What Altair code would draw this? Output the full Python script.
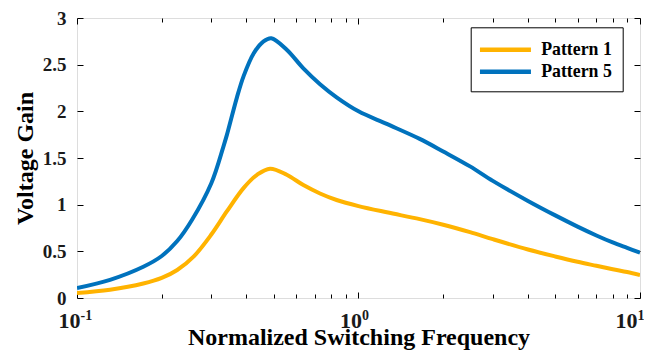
import altair as alt
import pandas as pd

# ---- data ----
p1_freq = [0.100, 0.131, 0.172, 0.200, 0.227, 0.260, 0.300, 0.341, 0.391, 0.436,
           0.485, 0.556, 0.637, 0.730, 0.836, 1.0, 1.26, 1.65, 2.0, 2.49,
           3.0, 4.0, 5.0, 6.0, 7.0, 8.0, 9.0, 10.0]
p1_gain = [0.054, 0.089, 0.155, 0.215, 0.300, 0.446, 0.680, 0.930, 1.180, 1.320,
           1.386, 1.320, 1.210, 1.120, 1.050, 0.985, 0.918, 0.845, 0.785, 0.705,
           0.630, 0.520, 0.445, 0.388, 0.345, 0.308, 0.278, 0.246]

p5_freq = [0.100, 0.131, 0.172, 0.200, 0.227, 0.256, 0.300, 0.331, 0.341, 0.370,
           0.391, 0.424, 0.460, 0.490, 0.556, 0.637, 0.730, 0.836, 1.0, 1.26,
           1.65, 2.0, 2.49, 3.0, 4.0, 5.0, 6.0, 7.0, 8.0, 9.0, 10.0]
p5_gain = [0.107, 0.195, 0.335, 0.450, 0.610, 0.836, 1.230, 1.620, 1.750, 2.150,
           2.380, 2.620, 2.750, 2.783, 2.660, 2.460, 2.290, 2.150, 2.000, 1.865,
           1.705, 1.570, 1.410, 1.255, 1.040, 0.885, 0.765, 0.670, 0.595, 0.537, 0.486]

series_names = ["Pattern 1", "Pattern 5"]
series_colors = ["#FFB300", "#0072BD"]

x_major = [0.1, 1, 10]
x_exponents = ["-1", "0", "1"]
x_minor = [0.2, 0.3, 0.4, 0.5, 0.6, 0.7, 0.8, 0.9, 2, 3, 4, 5, 6, 7, 8, 9]
y_ticks = [0, 0.5, 1, 1.5, 2, 2.5, 3]

rows = []
for f, g in zip(p1_freq, p1_gain):
    rows.append({"freq": f, "gain": g, "series": series_names[0]})
for f, g in zip(p5_freq, p5_gain):
    rows.append({"freq": f, "gain": g, "series": series_names[1]})
df = pd.DataFrame(rows)

FONT = "Liberation Serif"

xscale = alt.Scale(type="log", domain=[0.1, 10], nice=False)
yscale = alt.Scale(domain=[0, 3], nice=False, zero=False)

exp_expr = ("datum.value < 0.5 ? '%s' : (datum.value < 5 ? '%s' : '%s')"
            % tuple(x_exponents))

# keep the last label inside the page
lab_off = {"condition": {"test": "datum.value > 5", "value": -3}, "value": 3}

main = alt.Chart(df).mark_line(strokeWidth=4, interpolate="catmull-rom", clip=True).encode(
    x=alt.X("freq:Q", scale=xscale,
            axis=alt.Axis(orient="bottom", values=x_major, labelExpr="'10'",
                          tickSize=6, offset=-6, domain=False, grid=False,
                          labelPadding=12, labelFontSize=22, labelFont=FONT,
                          labelFontWeight="bold", labelColor="#1a1a1a",
                          labelAlign="right", labelOffset=lab_off,
                          title="Normalized Switching Frequency", titleFont=FONT,
                          titleFontSize=24, titleFontWeight="bold", titlePadding=-6,
                          titleColor="#000", tickColor="#000")),
    y=alt.Y("gain:Q", scale=yscale,
            axis=alt.Axis(orient="left", values=y_ticks, format="~g",
                          tickSize=6, offset=-6, domain=False, grid=False,
                          labelPadding=11, labelFontSize=19, labelFont=FONT,
                          labelFontWeight="bold", labelColor="#1a1a1a",
                          title="Voltage Gain", titleFont=FONT, titleFontSize=24,
                          titleFontWeight="bold", titlePadding=5, titleColor="#000",
                          tickColor="#000")),
    color=alt.Color("series:N",
                    scale=alt.Scale(domain=series_names, range=series_colors),
                    legend=alt.Legend(title=None, orient="none", legendX=393.7, legendY=9.3,
                                      symbolType="M-1.325,0H3.775", symbolSize=400,
                                      symbolStrokeWidth=4.5, labelOffset=35.5,
                                      labelFont=FONT, labelFontSize=17.8,
                                      labelFontWeight="bold", labelColor="#000",
                                      strokeColor="#000", fillColor="#fff",
                                      padding=10, rowPadding=-3)),
)

exp_axis = alt.Chart(df).mark_line(opacity=0).encode(
    x=alt.X("freq:Q", scale=xscale,
            axis=alt.Axis(orient="bottom", values=x_major, labelExpr=exp_expr,
                          ticks=False, tickSize=0, offset=0, domain=False, grid=False,
                          labelPadding=10, labelFontSize=14, labelFont=FONT,
                          labelFontWeight="bold", labelColor="#1a1a1a",
                          labelAlign="left", labelOffset=lab_off, title=None)),
    y=alt.Y("gain:Q", scale=yscale, axis=None),
    detail="series:N",
)

top_right = alt.Chart(df).mark_line(opacity=0).encode(
    x=alt.X("freq:Q", scale=xscale,
            axis=alt.Axis(orient="top", values=x_major, labels=False, title=None,
                          tickSize=6, offset=-6, domain=False, grid=False, tickColor="#000")),
    y=alt.Y("gain:Q", scale=yscale,
            axis=alt.Axis(orient="right", values=y_ticks, labels=False, title=None,
                          tickSize=6, offset=-6, domain=False, grid=False, tickColor="#000")),
    detail="series:N",
)

minor_bottom = alt.Chart(df).mark_line(opacity=0).encode(
    x=alt.X("freq:Q", scale=xscale,
            axis=alt.Axis(orient="bottom", values=x_minor, labels=False, title=None,
                          tickSize=4, offset=-4, domain=False, grid=False, tickColor="#000")),
    y=alt.Y("gain:Q", scale=yscale, axis=None),
    detail="series:N",
)

minor_top = alt.Chart(df).mark_line(opacity=0).encode(
    x=alt.X("freq:Q", scale=xscale,
            axis=alt.Axis(orient="top", values=x_minor, labels=False, title=None,
                          tickSize=4, offset=-4, domain=False, grid=False, tickColor="#000")),
    y=alt.Y("gain:Q", scale=yscale, axis=None),
    detail="series:N",
)

chart = alt.layer(main, exp_axis, top_right, minor_bottom, minor_top).resolve_axis(
    x="independent", y="independent"
).properties(
    width=563, height=280,
    autosize=alt.AutoSizeParams(type="none"),
    padding={"left": 69, "top": 10, "right": 4, "bottom": 52},
).configure_view(
    stroke="#000", strokeWidth=1
).configure(background="white")

chart.save("out.html", embed_options={"renderer": "svg", "actions": False})
